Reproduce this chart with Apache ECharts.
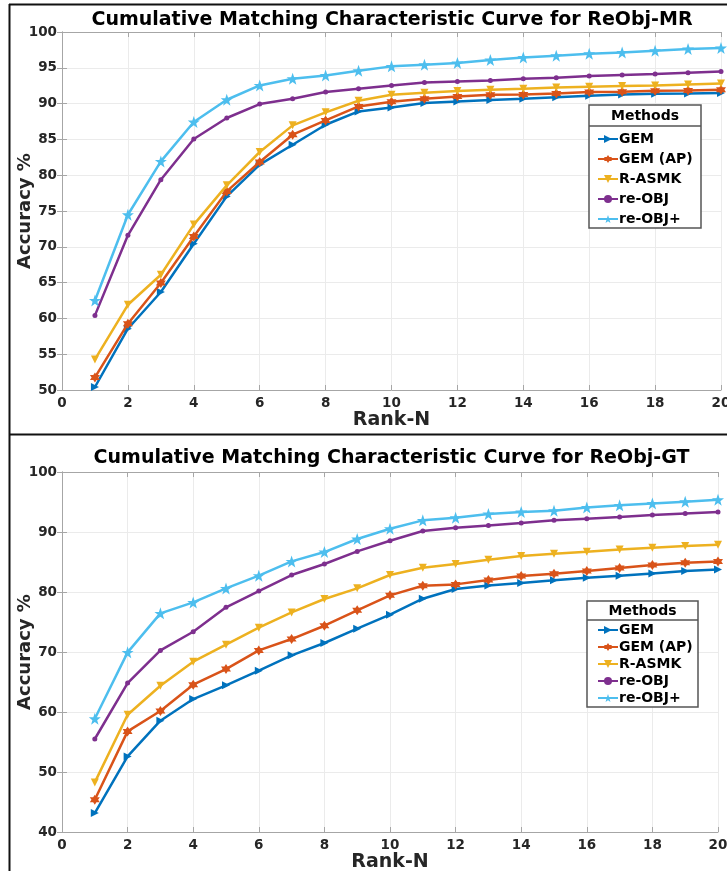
<!DOCTYPE html>
<html>
<head>
<meta charset="utf-8">
<script src="https://cdn.jsdelivr.net/npm/echarts@6/dist/echarts.min.js"></script>
<style>html,body{margin:0;padding:0;background:#fff}#main{width:727px;height:871px}</style>
</head>
<body>
<div id="main"></div>
<script>
const ranks = [1,2,3,4,5,6,7,8,9,10,11,12,13,14,15,16,17,18,19,20];
const methods = ['GEM', 'GEM (AP)', 'R-ASMK', 're-OBJ', 're-OBJ+'];
const xTicks = [0,2,4,6,8,10,12,14,16,18,20];
const mrTicks = [50,55,60,65,70,75,80,85,90,95,100];
const gtTicks = [40,50,60,70,80,90,100];

const mrGEM   = [50.42,58.56,63.69,70.43,77.04,81.47,84.26,87.05,88.91,89.47,90.08,90.31,90.50,90.68,90.87,91.10,91.28,91.38,91.42,91.48];
const mrGEMAP = [51.75,59.26,64.94,71.45,77.74,81.84,85.66,87.65,89.61,90.27,90.68,91.00,91.24,91.28,91.42,91.62,91.66,91.80,91.84,91.94];
const mrRASMK = [54.27,61.90,66.09,73.10,78.58,83.24,86.96,88.78,90.40,91.24,91.52,91.76,91.94,92.08,92.26,92.36,92.46,92.54,92.68,92.82];
const mrReOBJ = [60.42,71.60,79.37,85.05,87.99,89.94,90.68,91.62,92.08,92.54,92.96,93.10,93.24,93.48,93.62,93.85,93.99,94.13,94.32,94.50];
const mrReOBJp= [62.51,74.48,81.93,87.43,90.54,92.54,93.48,93.94,94.60,95.20,95.43,95.67,96.09,96.45,96.69,96.97,97.15,97.39,97.63,97.77];

const gtGEM   = [43.16,52.60,58.55,62.16,64.44,66.88,69.44,71.50,73.88,76.22,78.88,80.50,81.10,81.50,81.94,82.38,82.72,83.10,83.49,83.77];
const gtGEMAP = [45.38,56.77,60.16,64.55,67.16,70.27,72.16,74.38,76.94,79.44,81.05,81.27,82.00,82.66,83.05,83.49,84.00,84.50,84.88,85.10];
const gtRASMK = [48.27,59.55,64.38,68.38,71.22,74.05,76.60,78.83,80.61,82.83,84.05,84.66,85.38,86.00,86.38,86.72,87.10,87.38,87.66,87.88];
const gtReOBJ = [55.50,64.83,70.27,73.38,77.44,80.16,82.83,84.66,86.77,88.55,90.16,90.72,91.10,91.50,91.94,92.22,92.50,92.83,93.10,93.33];
const gtReOBJp= [58.88,69.94,76.44,78.27,80.60,82.72,85.10,86.66,88.83,90.55,91.94,92.38,93.00,93.33,93.55,94.10,94.44,94.77,95.05,95.38];

const colors = ['#0072BD', '#D95319', '#EDB120', '#7E2F8E', '#4DBEEE'];
const symbols = [
  'path://M0,0 L10,5 L0,10 Z',
  'path://M5,0 L6.44,2.5 L9.33,2.5 L7.89,5 L9.33,7.5 L6.44,7.5 L5,10 L3.56,7.5 L0.67,7.5 L2.11,5 L0.67,2.5 L3.56,2.5 Z',
  'path://M0,0 L10,0 L5,10 Z',
  'circle',
  'path://M5,0 L6.18,3.45 L9.76,3.45 L6.9,5.6 L7.94,9.05 L5,7 L2.06,9.05 L3.1,5.6 L0.24,3.45 L3.82,3.45 Z'
];
const symSizes = [8, 10, 8, 5, 12];

const mrData = [mrGEM, mrGEMAP, mrRASMK, mrReOBJ, mrReOBJp];
const gtData = [gtGEM, gtGEMAP, gtRASMK, gtReOBJ, gtReOBJp];

const FONT = 'DejaVu Sans';
const labelColor = '#262626';
const axisGray = '#a6a6a6';
const gridGray = '#ebebeb';

function xAxes(gi) {
  return [{
    type: 'value', gridIndex: gi, min: 0, max: 20, interval: 2,
    name: 'Rank-N', nameLocation: 'middle', nameGap: 19,
    nameTextStyle: { fontFamily: FONT, fontWeight: 'bold', fontSize: 19, color: labelColor },
    axisLine: { show: true, lineStyle: { color: axisGray, width: 1 } },
    axisTick: { show: true, inside: true, length: 5, lineStyle: { color: axisGray } },
    axisLabel: { fontFamily: FONT, fontWeight: 'bold', fontSize: 13.5, color: labelColor, margin: 6 },
    splitLine: { show: true, lineStyle: { color: gridGray, width: 1 } }
  }, {
    type: 'value', gridIndex: gi, position: 'top', min: 0, max: 20, interval: 2,
    axisLine: { show: true, lineStyle: { color: axisGray, width: 1 } },
    axisTick: { show: true, inside: true, length: 5, lineStyle: { color: axisGray } },
    axisLabel: { show: false }, splitLine: { show: false }
  }];
}
function yAxes(gi, mn, mx, iv) {
  return [{
    type: 'value', gridIndex: gi, min: mn, max: mx, interval: iv,
    name: 'Accuracy %', nameLocation: 'middle', nameGap: 28, nameRotate: 90, nameMoveOverlap: false,
    nameTextStyle: { fontFamily: FONT, fontWeight: 'bold', fontSize: 18, color: labelColor },
    axisLine: { show: true, lineStyle: { color: axisGray, width: 1 } },
    axisTick: { show: true, inside: true, length: 5, lineStyle: { color: axisGray } },
    axisLabel: { fontFamily: FONT, fontWeight: 'bold', fontSize: 13.5, color: labelColor, margin: 5 },
    splitLine: { show: true, lineStyle: { color: gridGray, width: 1 } }
  }, {
    type: 'value', gridIndex: gi, position: 'right', min: mn, max: mx, interval: iv,
    axisLine: { show: true, lineStyle: { color: axisGray, width: 1 } },
    axisTick: { show: true, inside: true, length: 5, lineStyle: { color: axisGray } },
    axisLabel: { show: false }, splitLine: { show: false }
  }];
}

const series = [];
[mrData, gtData].forEach((set, gi) => {
  set.forEach((vals, i) => {
    series.push({
      name: methods[i], type: 'line',
      xAxisIndex: gi * 2, yAxisIndex: gi * 2,
      data: ranks.map((r, k) => [r, vals[k]]),
      symbol: symbols[i], symbolSize: symSizes[i], showSymbol: true,
      itemStyle: { color: colors[i] },
      lineStyle: { color: colors[i], width: 2.5 },
      emphasis: { disabled: true },
      animation: false, z: 3 + i
    });
  });
});

function legendBox(x, y, w, h, sepY) {
  return [
    { type: 'rect', shape: { x: x, y: y, width: w, height: h }, style: { fill: '#fff', stroke: '#555', lineWidth: 1.5 }, z: 20 },
    { type: 'line', shape: { x1: x, y1: sepY, x2: x + w, y2: sepY }, style: { stroke: '#555', lineWidth: 1.5 }, z: 21 },
    { type: 'text', x: x + w / 2, y: (y + sepY) / 2 + 0.5, style: { text: 'Methods', fontFamily: FONT, fontWeight: 'bold', fontSize: 14, fill: '#000', align: 'center', verticalAlign: 'middle' }, z: 21 }
  ];
}

function legendComp(top, gap) {
  return {
    data: methods, orient: 'vertical', left: 597, top: top,
    itemWidth: 20, itemHeight: 10, itemGap: gap,
    selectedMode: false, z: 30,
    textStyle: { fontFamily: FONT, fontWeight: 'bold', fontSize: 14, color: '#000', padding: [0, 0, 0, -4] },
    padding: 0
  };
}

const chart = echarts.init(document.getElementById('main'), null, { renderer: 'canvas' });
chart.setOption({
  animation: false,
  backgroundColor: '#fff',
  title: [
    { text: 'Cumulative Matching Characteristic Curve for ReObj-MR', left: 387, top: 6, textAlign: 'center',
      textStyle: { fontFamily: FONT, fontWeight: 'bold', fontSize: 19, color: '#000' } },
    { text: 'Cumulative Matching Characteristic Curve for ReObj-GT', left: 386.5, top: 444, textAlign: 'center',
      textStyle: { fontFamily: FONT, fontWeight: 'bold', fontSize: 19, color: '#000' } }
  ],
  grid: [
    { left: 62, top: 32, width: 659, height: 358, outerBoundsMode: 'none', containLabel: false },
    { left: 62, top: 472, width: 656, height: 360, outerBoundsMode: 'none', containLabel: false }
  ],
  xAxis: [...xAxes(0), ...xAxes(1)],
  yAxis: [...yAxes(0, 50, 100, 5), ...yAxes(1, 40, 100, 10)],
  legend: [legendComp(132, 6), legendComp(623, 3)],
  series: series,
  graphic: [
    ...legendBox(589, 105, 112, 123, 126),
    ...legendBox(587, 601, 111, 106, 620),
    { type: 'line', shape: { x1: 9, y1: 4.5, x2: 727, y2: 4.5 }, style: { stroke: '#111', lineWidth: 2 }, z: 50 },
    { type: 'line', shape: { x1: 9.5, y1: 4, x2: 9.5, y2: 871 }, style: { stroke: '#111', lineWidth: 2 }, z: 50 },
    { type: 'line', shape: { x1: 9, y1: 434.5, x2: 727, y2: 434.5 }, style: { stroke: '#111', lineWidth: 2 }, z: 50 }
  ]
});
</script>
</body>
</html>
